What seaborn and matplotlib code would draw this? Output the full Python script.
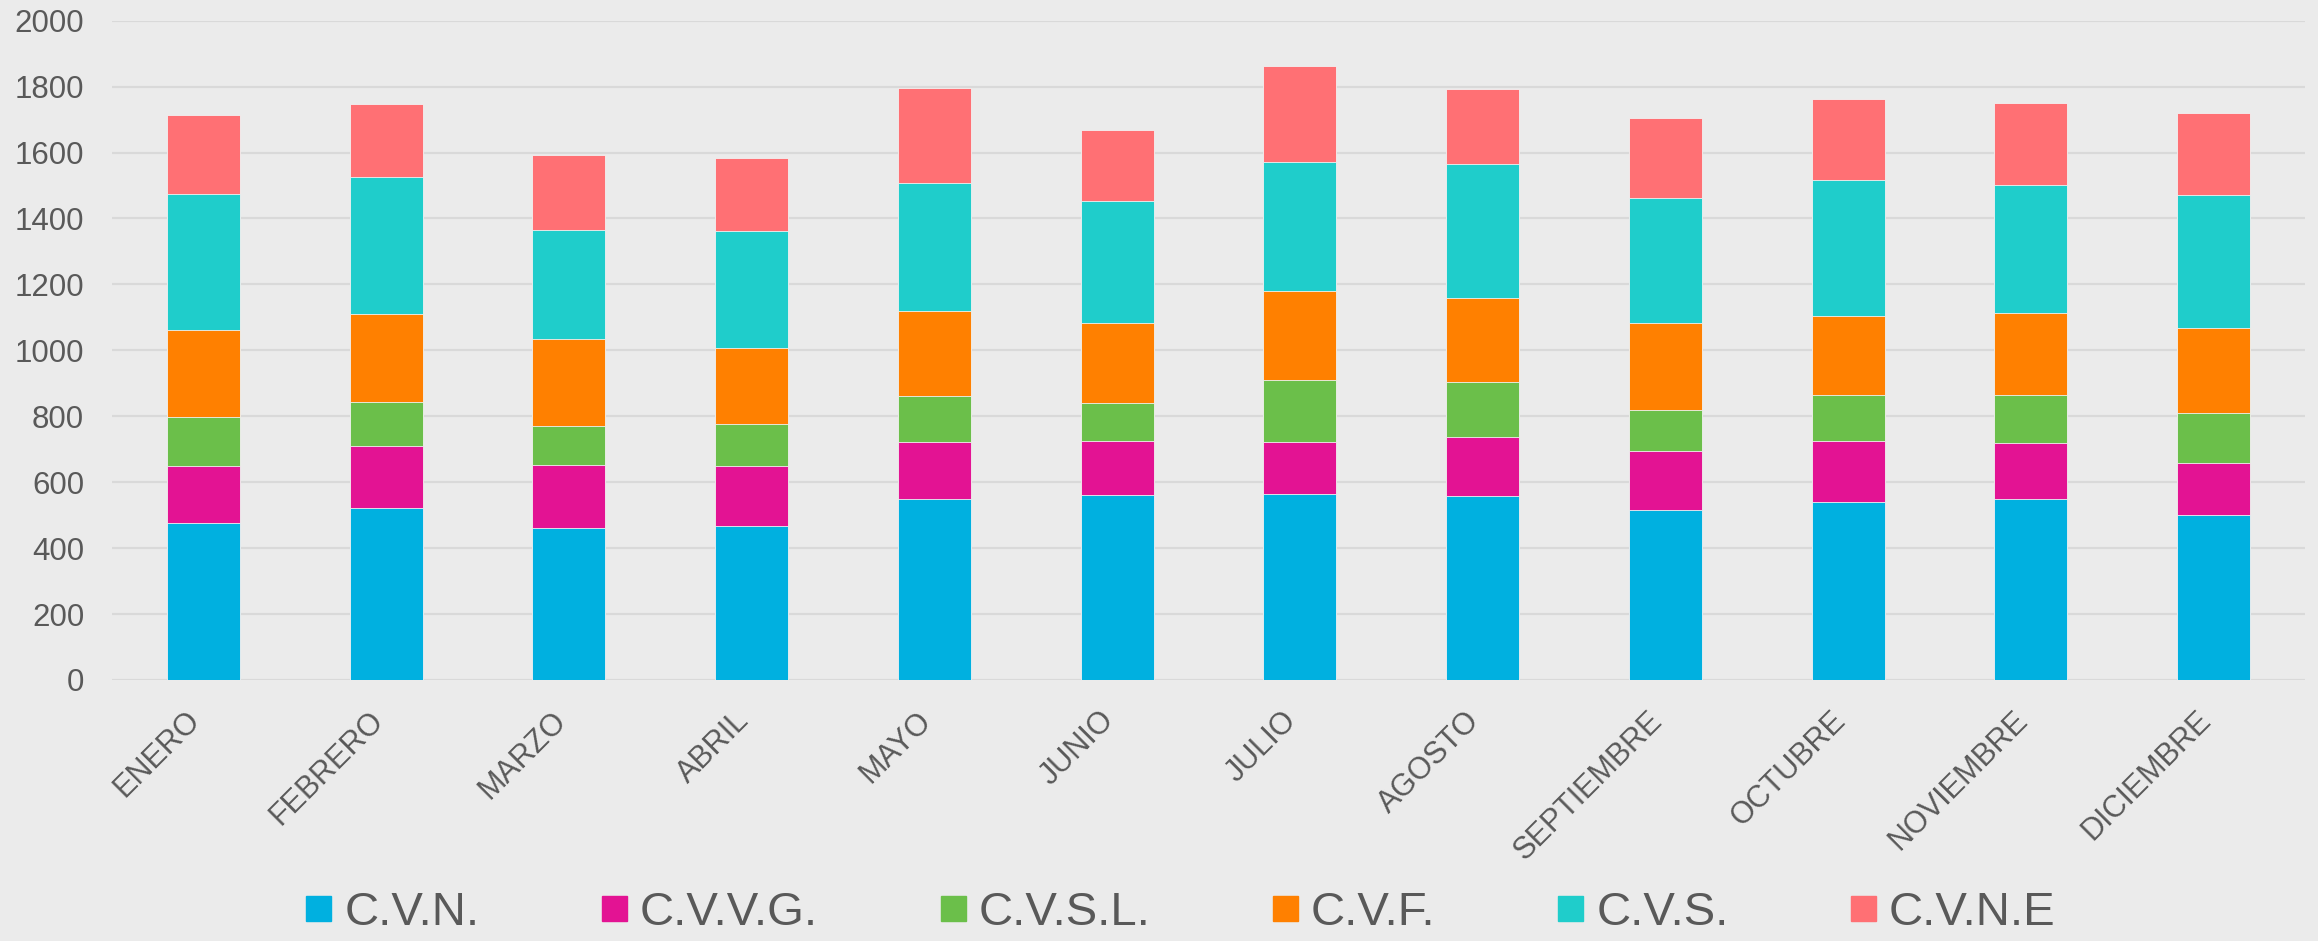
import matplotlib
matplotlib.use("Agg")
import matplotlib.pyplot as plt
import matplotlib.transforms as mtransforms
from matplotlib.lines import Line2D
import numpy as np
import pandas as pd
import seaborn as sns

meses = ["ENERO", "FEBRERO", "MARZO", "ABRIL", "MAYO", "JUNIO", "JULIO",
         "AGOSTO", "SEPTIEMBRE", "OCTUBRE", "NOVIEMBRE", "DICIEMBRE"]
series = ["C.V.N.", "C.V.V.G.", "C.V.S.L.", "C.V.F.", "C.V.S.", "C.V.N.E"]
colores = ["#00B0E0", "#E31393", "#6BBF4A", "#FF8000", "#1FCDCB", "#FF7074"]

cvn = [475, 522, 460, 468, 549, 561, 565, 558, 515, 541, 550, 500]
cvvg = [174, 188, 192, 181, 173, 164, 157, 178, 180, 185, 168, 159]
cvsl = [150, 134, 119, 127, 139, 115, 188, 167, 124, 138, 146, 151]
cvf = [262, 266, 262, 230, 257, 243, 271, 256, 263, 239, 249, 259]
cvs = [413, 415, 331, 356, 390, 369, 389, 407, 380, 413, 388, 401]
cvne = [239, 221, 230, 220, 288, 215, 292, 228, 242, 246, 249, 249]

valores = [cvn, cvvg, cvsl, cvf, cvs, cvne]
acumulado = np.cumsum(np.array(valores), axis=0)

GRIS = "#595959"
FONDO = "#EBEBEB"

sns.set_theme(style="whitegrid", rc={
    "axes.facecolor": FONDO,
    "figure.facecolor": FONDO,
    "grid.color": "#D9D9D9",
    "grid.linewidth": 1.6,
})
plt.rcParams["font.family"] = ["Liberation Sans", "DejaVu Sans"]

fig, ax = plt.subplots(figsize=(23.18, 9.41), dpi=100)
fig.subplots_adjust(left=0.0483, right=0.9944, top=0.978, bottom=0.2774)

# stacked bars: draw cumulative totals from the top series down
for i in range(len(series) - 1, -1, -1):
    df = pd.DataFrame({"mes": meses, "valor": acumulado[i]})
    sns.barplot(data=df, x="mes", y="valor", color=colores[i], width=0.4,
                saturation=1, edgecolor="#F2F2F2", linewidth=0.6, ax=ax)

ax.set_xlim(-0.5, len(meses) - 0.5)
ax.set_ylim(0, 2000)
ax.set_yticks(range(0, 2001, 200))
ax.set_xlabel("")
ax.set_ylabel("")
ax.grid(axis="x", visible=False)
ax.set_axisbelow(True)
for s in ax.spines.values():
    s.set_visible(False)

ax.tick_params(axis="y", length=0, pad=20, labelsize=22.5, labelcolor=GRIS)
ax.tick_params(axis="x", length=0, pad=14, labelsize=22, labelcolor=GRIS)
desplazar = mtransforms.ScaledTranslation(-18 / 100, -6 / 100, fig.dpi_scale_trans)
for lab in ax.get_xticklabels():
    lab.set_rotation(45)
    lab.set_ha("right")
    lab.set_rotation_mode("anchor")
    lab.set_transform(lab.get_transform() + desplazar)

handles = [Line2D([], [], linestyle="none", marker="s", markersize=18,
                  markerfacecolor=c, markeredgecolor=c) for c in colores]
fig.legend(handles, series, loc="center", bbox_to_anchor=(0.509, 0.03),
           ncol=6, frameon=False, fontsize=34, labelcolor=GRIS,
           handlelength=0.6, handletextpad=0.25, columnspacing=2.55)

fig.savefig("out.png", dpi=100, facecolor=FONDO)
